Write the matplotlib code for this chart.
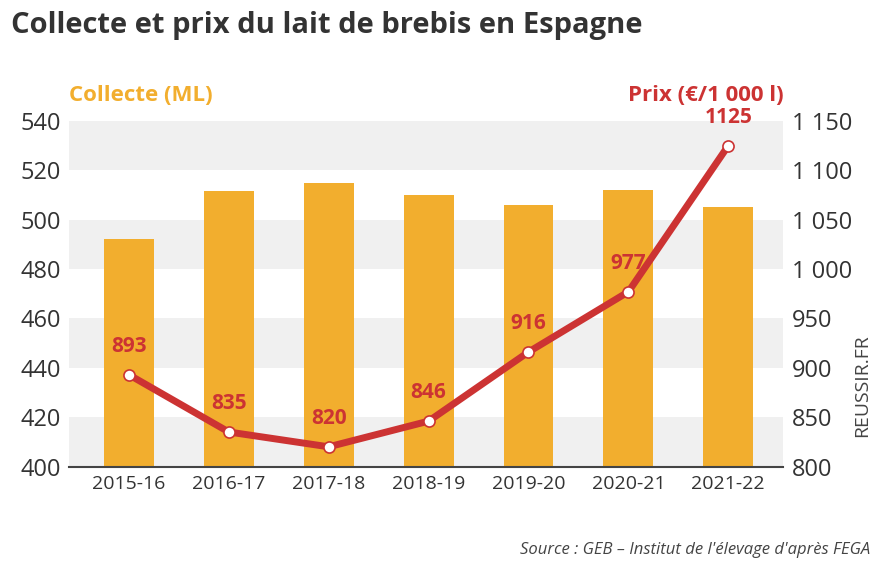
import matplotlib
matplotlib.use("Agg")
import matplotlib.pyplot as plt
import numpy as np

categories = ["2015-16","2016-17","2017-18","2018-19","2019-20","2020-21","2021-22"]
collecte = [492, 511.5, 515, 510, 506, 512, 505]
prix = [893, 835, 820, 846, 916, 977, 1125]
left_ticks = [400,420,440,460,480,500,520,540]
right_ticks = [800,850,900,950,1000,1050,1100,1150]
right_labels = ["800","850","900","950","1 000","1 050","1 100","1 150"]

ORANGE = "#f2ae2e"
RED = "#cc3333"
plt.rcParams['font.family'] = ['Open Sans', 'DejaVu Sans']

fig = plt.figure(figsize=(8.84, 5.76), dpi=100)
ax = fig.add_axes([0.078, 0.19, 0.808, 0.60])
x = np.arange(len(categories))
ax.set_xlim(-0.6, 6.55)
ax.set_ylim(400, 540)
for lo in [520, 480, 440, 400]:
    ax.axhspan(lo, lo+20, color="#f0f0f0", zorder=0, lw=0)
ax.bar(x, [c-400 for c in collecte], bottom=400, width=0.5, color=ORANGE, zorder=2)
ax.set_yticks(left_ticks)
ax.set_yticklabels([str(t) for t in left_ticks], fontsize=17, color="#333333")
ax.set_xticks(x)
ax.set_xticklabels(categories, fontsize=14, color="#333333")
ax.tick_params(length=0, pad=6)
for s in ["top", "right", "left"]:
    ax.spines[s].set_visible(False)
ax.spines["bottom"].set_color("#444444")
ax.spines["bottom"].set_linewidth(1.5)

ax2 = ax.twinx()
ax2.set_ylim(800, 1150)
ax2.plot(x, prix, color=RED, lw=5, zorder=3, solid_capstyle="round")
ax2.plot(x, prix, "o", ms=8, mfc="white", mec=RED, mew=1.2, zorder=4)
for xi, p in zip(x, prix):
    ax2.text(xi, p + 18, str(p), ha="center", va="bottom", fontsize=15,
             fontweight="bold", color=RED, zorder=5)
ax2.set_yticks(right_ticks)
ax2.set_yticklabels(right_labels, fontsize=17, color="#333333")
ax2.tick_params(length=0, pad=6)
for s in ["top", "right", "left", "bottom"]:
    ax2.spines[s].set_visible(False)

fig.text(0.012, 0.955, "Collecte et prix du lait de brebis en Espagne", fontsize=21,
         fontweight="bold", color="#333333", va="center")
fig.text(0.078, 0.835, "Collecte (ML)", fontsize=16, fontweight="bold", color=ORANGE, va="center")
fig.text(0.886, 0.835, "Prix (€/1 000 l)", fontsize=16, fontweight="bold", color=RED,
         va="center", ha="right")
fig.text(0.975, 0.33, "REUSSIR.FR", fontsize=14, color="#444444", rotation=90,
         ha="center", va="center")
fig.text(0.985, 0.045, "Source : GEB – Institut de l'élevage d'après FEGA", fontsize=12,
         style="italic", color="#444444", ha="right", va="center")
fig.savefig("out.png", dpi=100)
